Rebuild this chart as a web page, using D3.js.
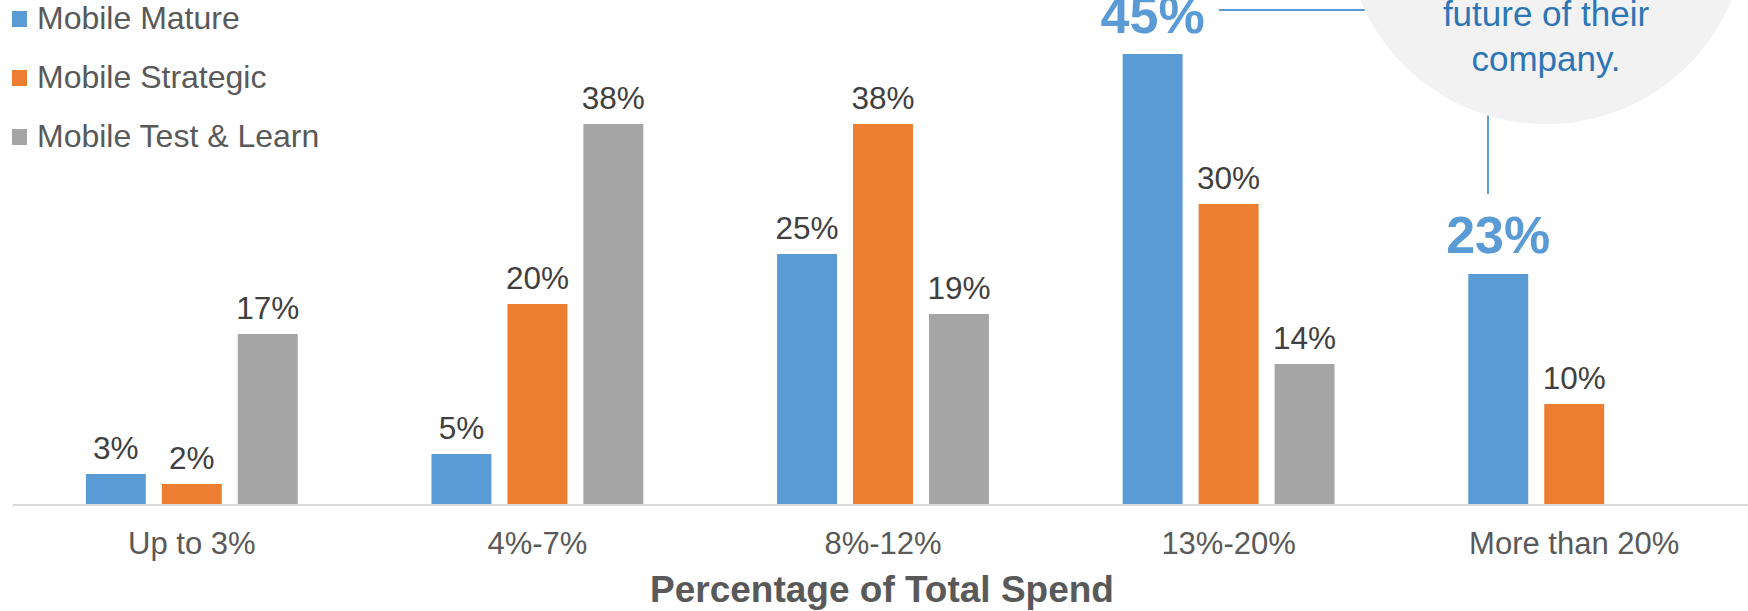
<!DOCTYPE html>
<html><head><meta charset="utf-8">
<script src="https://cdn.jsdelivr.net/npm/d3@7"></script>
<style>html,body{margin:0;padding:0;background:#fff;overflow:hidden}svg{display:block;font-family:"Liberation Sans",Arial,sans-serif}</style>
</head><body><svg id="c" width="1748" height="611"></svg>
<script>
const categories = ["Up to 3%", "4%-7%", "8%-12%", "13%-20%", "More than 20%"];
const seriesNames = ["Mobile Mature", "Mobile Strategic", "Mobile Test & Learn"];
const mature = [3, 5, 25, 45, 23];
const strategic = [2, 20, 38, 30, 10];
const testLearn = [17, 38, 19, 14, null];
const colors = ["#5b9bd5", "#ed7d31", "#a5a5a5"];
const highlighted = [[0, 3], [0, 4]]; // [series, category] shown as big callout labels
const calloutLines = ["future of their", "company."];
const axisTitle = "Percentage of Total Spend";

const values = [mature, strategic, testLearn];
const svg = d3.select("#c");
const W = 1748, H = 611;
const base = 504;

const x0 = d3.scaleBand().domain(categories).range([19, 1747]).paddingInner(0.387).paddingOuter(0.1935);
const x1 = d3.scaleBand().domain(seriesNames).range([0, x0.bandwidth()]).paddingInner(0.211);
const y = d3.scaleLinear().domain([0, 45]).range([base, 54]);

// callout circle
const cx = 1546, cy = -77, r = 201;
svg.append("circle").attr("cx", cx).attr("cy", cy).attr("r", r).attr("fill", "#f2f2f2");
calloutLines.forEach((t, i) => {
  svg.append("text").attr("x", cx).attr("y", 26 + i * 45).attr("text-anchor", "middle")
    .attr("font-size", 35).attr("fill", "#2e75b6").text(t);
});

// bars
const data = [];
values.forEach((arr, s) => arr.forEach((v, c) => { if (v != null) data.push({s, c, v}); }));
svg.append("g").selectAll("rect").data(data).join("rect")
  .attr("x", d => x0(categories[d.c]) + x1(seriesNames[d.s]))
  .attr("y", d => y(d.v))
  .attr("width", x1.bandwidth())
  .attr("height", d => base - y(d.v))
  .attr("fill", d => colors[d.s]);

// axis line
svg.append("line").attr("x1", 13).attr("x2", W).attr("y1", base + 1).attr("y2", base + 1)
  .attr("stroke", "#d9d9d9").attr("stroke-width", 2);

const isHi = d => highlighted.some(h => h[0] === d.s && h[1] === d.c);
// data labels
svg.append("g").selectAll("text").data(data).join("text")
  .attr("x", d => x0(categories[d.c]) + x1(seriesNames[d.s]) + x1.bandwidth() / 2)
  .attr("y", d => y(d.v) - (isHi(d) ? 21 : 15))
  .attr("text-anchor", "middle")
  .attr("font-size", d => isHi(d) ? 52 : 31.5)
  .attr("font-weight", d => isHi(d) ? "bold" : "normal")
  .attr("fill", d => isHi(d) ? "#5b9bd5" : "#404040")
  .text(d => d.v + "%");

// connector lines
const hy = 10;
svg.append("line").attr("x1", 1219).attr("x2", cx - Math.sqrt(r * r - (hy - cy) ** 2)).attr("y1", hy).attr("y2", hy)
  .attr("stroke", "#5b9bd5").attr("stroke-width", 2);
const vx = 1488;
svg.append("line").attr("x1", vx).attr("x2", vx).attr("y1", cy + Math.sqrt(r * r - (vx - cx) ** 2)).attr("y2", 194)
  .attr("stroke", "#5b9bd5").attr("stroke-width", 2);

// category labels
svg.append("g").selectAll("text").data(categories).join("text")
  .attr("x", d => x0(d) + x0.bandwidth() / 2)
  .attr("y", 554).attr("text-anchor", "middle").attr("font-size", 31).attr("fill", "#595959").text(d => d);

svg.append("text").attr("x", 882).attr("y", 602).attr("text-anchor", "middle")
  .attr("font-size", 37).attr("font-weight", "bold").attr("fill", "#595959").text(axisTitle);

// legend
const lg = svg.append("g").selectAll("g").data(seriesNames).join("g")
  .attr("transform", (d, i) => `translate(12,${19 + i * 59})`);
lg.append("rect").attr("x", 0).attr("y", -8).attr("width", 15).attr("height", 16).attr("fill", (d, i) => colors[i]);
lg.append("text").attr("x", 25).attr("y", 10).attr("font-size", 32).attr("fill", "#595959").text(d => d);
</script></body></html>
